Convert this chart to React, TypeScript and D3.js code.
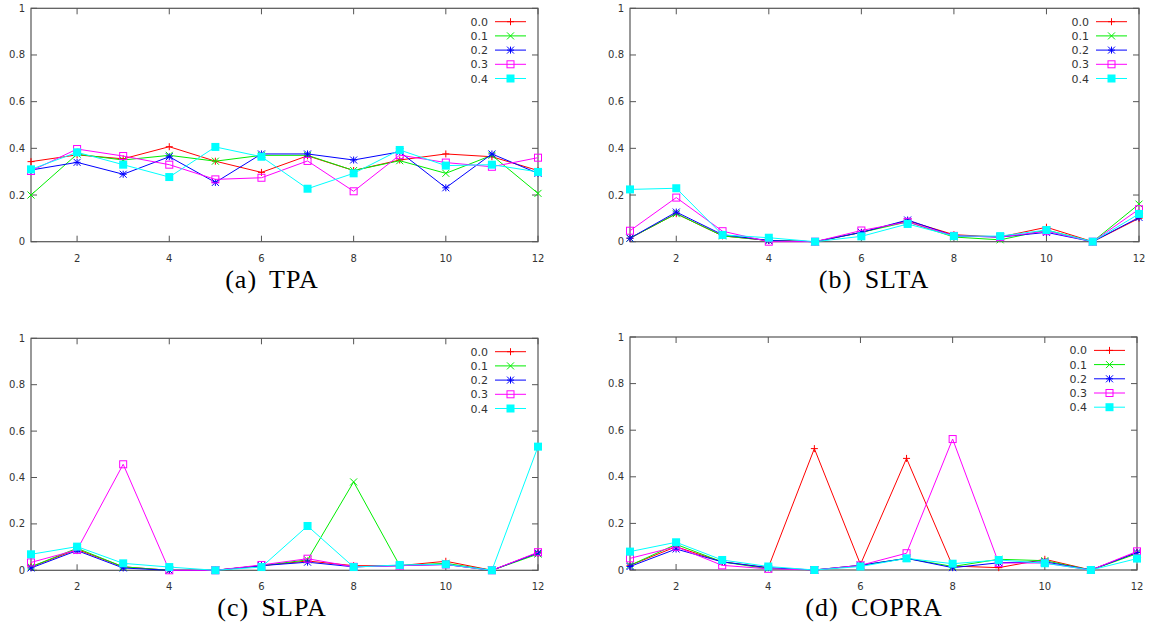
import React, { useEffect, useRef } from "react";
import * as d3 from "d3";

// x positions (1..12) and series labels
const xValues = [1, 2, 3, 4, 5, 6, 7, 8, 9, 10, 11, 12];
const seriesNames = ["0.0", "0.1", "0.2", "0.3", "0.4"];
const seriesColors = ["#ff0000", "#00ee00", "#0000ff", "#ff00ff", "#00ffff"];
const yTicks = [0, 0.2, 0.4, 0.6, 0.8, 1];
const yTickLabels = ["0", "0.2", "0.4", "0.6", "0.8", "1"];
const xTicks = [2, 4, 6, 8, 10, 12];

// one row per series (0.0 .. 0.4)
const tpa = [
  [0.343, 0.372, 0.355, 0.407, 0.345, 0.297, 0.368, 0.305, 0.35, 0.376, 0.364, 0.305],
  [0.2, 0.375, 0.35, 0.37, 0.345, 0.37, 0.37, 0.305, 0.347, 0.293, 0.37, 0.207],
  [0.307, 0.34, 0.289, 0.364, 0.254, 0.376, 0.376, 0.35, 0.385, 0.231, 0.376, 0.293],
  [0.303, 0.397, 0.367, 0.33, 0.267, 0.274, 0.346, 0.216, 0.371, 0.339, 0.321, 0.36],
  [0.31, 0.383, 0.33, 0.277, 0.406, 0.364, 0.227, 0.293, 0.393, 0.326, 0.33, 0.299],
];
const slta = [
  [0.015, 0.12, 0.025, 0.005, 0, 0.04, 0.09, 0.03, 0.02, 0.062, 0, 0.1],
  [0.015, 0.12, 0.025, 0.005, 0, 0.04, 0.085, 0.02, 0.008, 0.05, 0, 0.161],
  [0.015, 0.127, 0.03, 0.005, 0, 0.04, 0.093, 0.025, 0.02, 0.04, 0, 0.104],
  [0.047, 0.189, 0.045, 0, 0, 0.048, 0.085, 0.025, 0.02, 0.045, 0, 0.139],
  [0.224, 0.229, 0.029, 0.017, 0, 0.023, 0.076, 0.024, 0.024, 0.05, 0, 0.119],
];
const slpa = [
  [0.015, 0.09, 0.015, 0, 0, 0.02, 0.04, 0.02, 0.02, 0.039, 0, 0.075],
  [0.015, 0.095, 0.015, 0, 0, 0.02, 0.045, 0.381, 0.02, 0.03, 0, 0.07],
  [0.01, 0.085, 0.01, 0, 0, 0.02, 0.035, 0.015, 0.02, 0.025, 0, 0.075],
  [0.034, 0.088, 0.457, 0, 0, 0.023, 0.05, 0.015, 0.02, 0.025, 0, 0.078],
  [0.069, 0.102, 0.03, 0.014, 0, 0.014, 0.191, 0.014, 0.023, 0.026, 0, 0.533],
];
const copra = [
  [0.02, 0.1, 0.035, 0.01, 0.521, 0.024, 0.479, 0.017, 0.01, 0.046, 0, 0.075],
  [0.02, 0.11, 0.035, 0.005, 0, 0.02, 0.05, 0.015, 0.046, 0.04, 0, 0.07],
  [0.015, 0.09, 0.035, 0.01, 0, 0.02, 0.05, 0.01, 0.031, 0.035, 0, 0.075],
  [0.05, 0.1, 0.02, 0.005, 0, 0.02, 0.072, 0.562, 0.03, 0.03, 0, 0.08],
  [0.079, 0.119, 0.043, 0.015, 0, 0.015, 0.05, 0.027, 0.043, 0.029, 0, 0.049],
];

const panels = [
  { tag: "(a)", name: "TPA", data: tpa, box: [31, 8.3, 538, 241.7], cx: 272 },
  { tag: "(b)", name: "SLTA", data: slta, box: [630, 8.3, 1139, 241.7], cx: 874 },
  { tag: "(c)", name: "SLPA", data: slpa, box: [31, 338.3, 538, 570.3], cx: 272 },
  { tag: "(d)", name: "COPRA", data: copra, box: [630, 337, 1137, 570], cx: 874 },
];

const drawMarker = (g, type, color) => {
  const r = 3.5;
  if (type === 0) {
    g.append("path").attr("d", `M${-r},0H${r}M0,${-r}V${r}`).attr("stroke", color).attr("fill", "none");
  } else if (type === 1) {
    g.append("path").attr("d", `M${-r},${-r}L${r},${r}M${-r},${r}L${r},${-r}`).attr("stroke", color).attr("fill", "none");
  } else if (type === 2) {
    g.append("path")
      .attr("d", `M${-r},0H${r}M0,${-r}V${r}M${-r},${-r}L${r},${r}M${-r},${r}L${r},${-r}`)
      .attr("stroke", color)
      .attr("fill", "none");
  } else if (type === 3) {
    g.append("rect").attr("x", -3.5).attr("y", -3.5).attr("width", 7).attr("height", 7)
      .attr("stroke", color).attr("fill", "none");
  } else {
    g.append("rect").attr("x", -4).attr("y", -4).attr("width", 8).attr("height", 8).attr("fill", color);
  }
};

const App = () => {
  const ref = useRef(null);

  useEffect(() => {
    const svg = d3.select(ref.current);
    svg.selectAll("*").remove();
    const axisColor = "#555555";
    const textColor = "#333333";

    panels.forEach((p) => {
      const [x0, y0, x1, y1] = p.box;
      const x = d3.scaleLinear().domain([1, 12]).range([x0, x1]);
      const y = d3.scaleLinear().domain([0, 1]).range([y1, y0]);
      const g = svg.append("g");

      // frame
      g.append("rect")
        .attr("x", x0).attr("y", y0).attr("width", x1 - x0).attr("height", y1 - y0)
        .attr("fill", "none").attr("stroke", axisColor).attr("stroke-width", 1.2);

      // y ticks (inward, mirrored)
      yTicks.forEach((t, i) => {
        g.append("line").attr("x1", x0).attr("x2", x0 + 6).attr("y1", y(t)).attr("y2", y(t))
          .attr("stroke", axisColor);
        g.append("line").attr("x1", x1).attr("x2", x1 - 6).attr("y1", y(t)).attr("y2", y(t))
          .attr("stroke", axisColor);
        g.append("text").attr("x", x0 - 6).attr("y", y(t) + 3.5)
          .attr("text-anchor", "end").attr("font-family", "DejaVu Sans").attr("font-size", 10)
          .attr("fill", textColor).text(yTickLabels[i]);
      });

      // x ticks
      xTicks.forEach((t) => {
        g.append("line").attr("x1", x(t)).attr("x2", x(t)).attr("y1", y1).attr("y2", y1 - 6)
          .attr("stroke", axisColor);
        g.append("line").attr("x1", x(t)).attr("x2", x(t)).attr("y1", y0).attr("y2", y0 + 6)
          .attr("stroke", axisColor);
        g.append("text").attr("x", x(t)).attr("y", y1 + 20)
          .attr("text-anchor", "middle").attr("font-family", "DejaVu Sans").attr("font-size", 10)
          .attr("fill", textColor).text(t);
      });

      const line = d3.line().x((d, i) => x(xValues[i])).y((d) => y(d));

      p.data.forEach((vals, si) => {
        const color = seriesColors[si];
        g.append("path").datum(vals).attr("d", line).attr("fill", "none")
          .attr("stroke", color).attr("stroke-width", 1);
        vals.forEach((v, i) => {
          const m = g.append("g").attr("transform", `translate(${x(xValues[i])},${y(v)})`);
          drawMarker(m, si, color);
        });

        // legend
        const ly = y0 + 13.4 + si * 14.2;
        g.append("text").attr("x", x1 - 50).attr("y", ly + 4)
          .attr("text-anchor", "end").attr("font-family", "DejaVu Sans").attr("font-size", 11)
          .attr("fill", textColor).text(seriesNames[si]);
        g.append("line").attr("x1", x1 - 43).attr("x2", x1 - 12).attr("y1", ly).attr("y2", ly)
          .attr("stroke", color);
        const lm = g.append("g").attr("transform", `translate(${x1 - 27.5},${ly})`);
        drawMarker(lm, si, color);
      });

      // caption
      const cap = g.append("text").attr("x", p.cx).attr("y", y1 + 46)
        .attr("text-anchor", "middle").attr("font-family", "Liberation Serif")
        .attr("font-size", 26).attr("letter-spacing", 1).attr("fill", "#000");
      cap.append("tspan").text(p.tag + " ");
      cap.append("tspan").attr("dx", 5).text(p.name);
    });
  }, []);

  return (
    <svg
      ref={ref}
      width={1158}
      height={635}
      style={{ position: "absolute", left: 0, top: 0, background: "#fff" }}
    ></svg>
  );
};

export default App;
